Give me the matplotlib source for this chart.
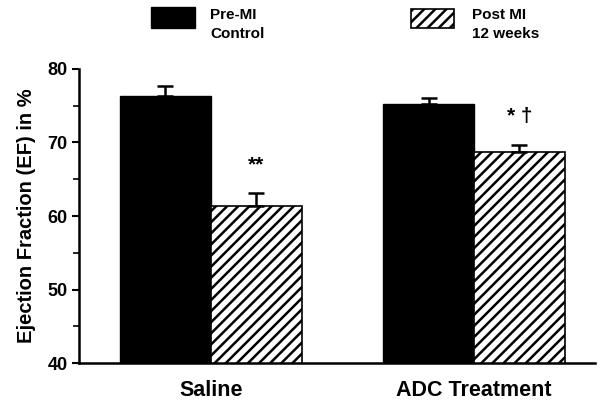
import matplotlib.pyplot as plt
import numpy as np
from matplotlib.patches import Rectangle
from matplotlib import ticker

groups = ['Saline', 'ADC Treatment']
pre_mi = [76.3, 75.2]
pre_err = [1.4, 0.8]
post_mi = [61.3, 68.7]
post_err = [1.8, 0.9]
marks = ['**', '* \u2020']

plt.rcParams['font.family'] = ['Liberation Sans', 'DejaVu Sans']
plt.rcParams['font.weight'] = 'bold'
plt.rcParams['hatch.linewidth'] = 1.8

fig = plt.figure(figsize=(6.06, 4.03), dpi=100)
ax = fig.add_axes([0.130, 0.099, 0.852, 0.730])

x = np.arange(len(groups))
w = 0.345
ax.bar(x - w / 2, pre_mi, w, color='black', edgecolor='black', zorder=2)
ax.bar(x + w / 2, post_mi, w, color='white', edgecolor='black', hatch='///',
       linewidth=1.2, zorder=2)
ax.errorbar(x - w / 2, pre_mi, yerr=[np.zeros(2), pre_err], fmt='none',
            ecolor='black', elinewidth=1.8, capsize=6, capthick=1.8, zorder=3)
ax.errorbar(x + w / 2, post_mi, yerr=[np.zeros(2), post_err], fmt='none',
            ecolor='black', elinewidth=1.8, capsize=6, capthick=1.8, zorder=3)

for xi, v, e, m in zip(x, post_mi, post_err, marks):
    ax.text(xi + w / 2, v + e + 2.6, m, ha='center', va='bottom',
            fontsize=15, fontweight='bold')

ax.set_ylim(40, 80)
ax.set_xlim(-0.502, 1.46)
ax.yaxis.set_major_locator(ticker.MultipleLocator(10))
ax.yaxis.set_minor_locator(ticker.MultipleLocator(5))
ax.set_xticks(x)
ax.set_xticklabels(groups, fontsize=15.5, fontweight='bold')
ax.tick_params(axis='x', length=0, pad=12)
ax.tick_params(axis='y', which='major', length=5, width=1.5, labelsize=13, pad=3)
ax.tick_params(axis='y', which='minor', length=4, width=1.2)
for lbl in ax.get_yticklabels():
    lbl.set_fontweight('bold')
ax.set_ylabel('Ejection Fraction (EF) in %', fontsize=14.5, fontweight='bold', labelpad=8)

ax.spines['top'].set_visible(False)
ax.spines['right'].set_visible(False)
ax.spines['left'].set_linewidth(1.8)
ax.spines['bottom'].set_linewidth(1.8)

# legend drawn by hand at the top
fig.patches.append(Rectangle((151 / 606, 1 - 28 / 403), 44 / 606, 21 / 403,
                             transform=fig.transFigure, facecolor='black',
                             edgecolor='black'))
fig.patches.append(Rectangle((411 / 606, 1 - 28 / 403), 43 / 606, 19 / 403,
                             transform=fig.transFigure, facecolor='white',
                             edgecolor='black', hatch='///', linewidth=1.2))
fig.text(210 / 606, 1 - 15 / 403, 'Pre-MI', fontsize=11, fontweight='bold', va='center')
fig.text(210 / 606, 1 - 34 / 403, 'Control', fontsize=11, fontweight='bold', va='center')
fig.text(472 / 606, 1 - 15 / 403, 'Post MI', fontsize=11, fontweight='bold', va='center')
fig.text(472 / 606, 1 - 34 / 403, '12 weeks', fontsize=11, fontweight='bold', va='center')

fig.savefig('out.png', dpi=100)
